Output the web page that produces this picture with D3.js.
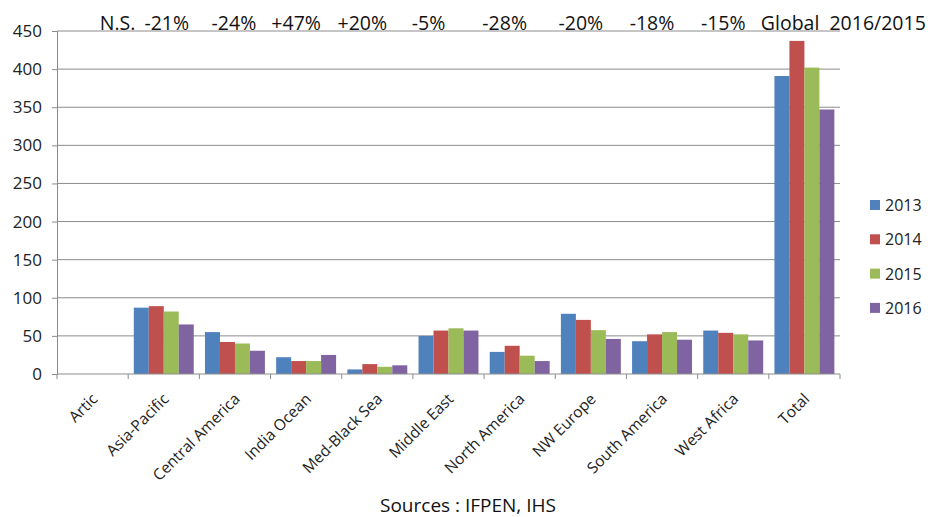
<!DOCTYPE html>
<html>
<head>
<meta charset="utf-8">
<script src="https://cdn.jsdelivr.net/npm/d3@7"></script>
<style>
  html, body { margin: 0; padding: 0; background: #fff; }
  svg { display: block; font-family: "Open Sans", "Noto Sans", sans-serif; }
  text { white-space: pre; }
</style>
</head>
<body>
<svg id="chart" width="933" height="517"></svg>
<script>
// Regions and yearly values
const regions = ["Artic", "Asia-Pacific", "Central America", "India Ocean", "Med-Black Sea",
  "Middle East", "North America", "NW Europe", "South America", "West Africa", "Total"];
const years = ["2013", "2014", "2015", "2016"];
const v2013 = [0, 87, 55, 22, 6, 50, 29, 79, 43, 57, 391];
const v2014 = [0, 89, 42, 17, 13, 57, 37, 71, 52, 54, 437];
const v2015 = [0, 82, 40, 17, 9.5, 60, 24, 57.5, 55, 52, 402];
const v2016 = [0, 65, 30.5, 25, 11.4, 57, 17, 46, 45, 44, 347];
const changes = ["N.S.", "-21%", "-24%", "+47%", "+20%", "-5%", "-28%", "-20%", "-18%", "-15%", "Global  2016/2015"];
const yTicks = [0, 50, 100, 150, 200, 250, 300, 350, 400, 450];
const source = "Sources : IFPEN, IHS";

const series = [v2013, v2014, v2015, v2016];
const colors = ["#4F81BD", "#C0504D", "#9BBB59", "#8064A2"];
const axisGrey = "#8c8c8c";

const svg = d3.select("#chart");
const m = { left: 57, right: 840, top: 31, bottom: 374 };

const x = d3.scaleBand().domain(regions).range([m.left, m.right]).paddingInner(0).paddingOuter(0);
const x1 = d3.scaleBand().domain(years).range([0, x.bandwidth()]).paddingInner(0).paddingOuter(0.375);
const y = d3.scaleLinear().domain([0, 450]).range([m.bottom, m.top]);

// Gridlines
svg.append("g")
  .selectAll("line")
  .data(yTicks.filter(d => d > 0))
  .join("line")
  .attr("x1", m.left).attr("x2", m.right)
  .attr("y1", d => y(d)).attr("y2", d => y(d))
  .attr("stroke", axisGrey).attr("stroke-width", 1);

// Bars
const rows = regions.map((r, i) => ({ region: r, vals: series.map((s, k) => ({ year: years[k], v: s[i], k })) }));
const groups = svg.append("g").selectAll("g")
  .data(rows).join("g")
  .attr("transform", d => `translate(${x(d.region)},0)`);
groups.selectAll("rect")
  .data(d => d.vals.filter(e => e.v > 0))
  .join("rect")
  .attr("x", e => x1(e.year))
  .attr("width", x1.bandwidth())
  .attr("y", e => y(e.v))
  .attr("height", e => y(0) - y(e.v))
  .attr("fill", e => colors[e.k]);

// Y axis
const yAxis = d3.axisLeft(y).tickValues(yTicks).tickSize(5).tickPadding(10);
const gy = svg.append("g").attr("transform", `translate(${m.left},0)`).call(yAxis);
gy.select(".domain").attr("stroke", axisGrey);
gy.selectAll(".tick line").attr("stroke", axisGrey);
gy.selectAll(".tick text").attr("font-size", 17).attr("fill", "#222")
  .attr("font-family", "Open Sans, Noto Sans, sans-serif");

// X axis: ticks at band boundaries
const gx = svg.append("g").attr("transform", `translate(0,${m.bottom})`);
gx.append("line").attr("x1", m.left).attr("x2", m.right).attr("stroke", axisGrey);
gx.selectAll("line.tk")
  .data(regions.map(r => x(r)).concat([m.right]))
  .join("line").attr("class", "tk")
  .attr("x1", d => d).attr("x2", d => d).attr("y1", 0).attr("y2", 5)
  .attr("stroke", axisGrey);
gx.selectAll("text")
  .data(regions)
  .join("text")
  .attr("transform", d => `translate(${x(d) + x.bandwidth() / 2 + 6},${26}) rotate(-45)`)
  .attr("text-anchor", "end")
  .attr("font-size", 15.5)
  .attr("fill", "#222")
  .text(d => d);

// Change labels above the plot
const noteShift = [25, 3, -1, -10, -15, -20, -15, -10, -10, -10, 0];
svg.append("g").selectAll("text")
  .data(changes)
  .join("text")
  .attr("x", (d, i) => i === regions.length - 1 ? x(regions[i]) - 8 : x(regions[i]) + x.bandwidth() / 2 + noteShift[i])
  .attr("y", 30)
  .attr("text-anchor", (d, i) => i === regions.length - 1 ? "start" : "middle")
  .attr("font-size", 19.5)
  .attr("fill", "#111")
  .text(d => d);

// Legend
const lg = svg.append("g").attr("transform", "translate(870,205)");
years.forEach((yr, k) => {
  const g = lg.append("g").attr("transform", `translate(0,${k * 34.3})`);
  g.append("rect").attr("x", 0).attr("y", -5).attr("width", 10).attr("height", 10).attr("fill", colors[k]);
  g.append("text").attr("x", 15).attr("y", 6).attr("font-size", 16).attr("fill", "#222").text(yr);
});

// Source note
svg.append("text")
  .attr("x", 468).attr("y", 512)
  .attr("text-anchor", "middle")
  .attr("font-size", 19)
  .attr("fill", "#111")
  .text(source);
</script>
</body>
</html>
